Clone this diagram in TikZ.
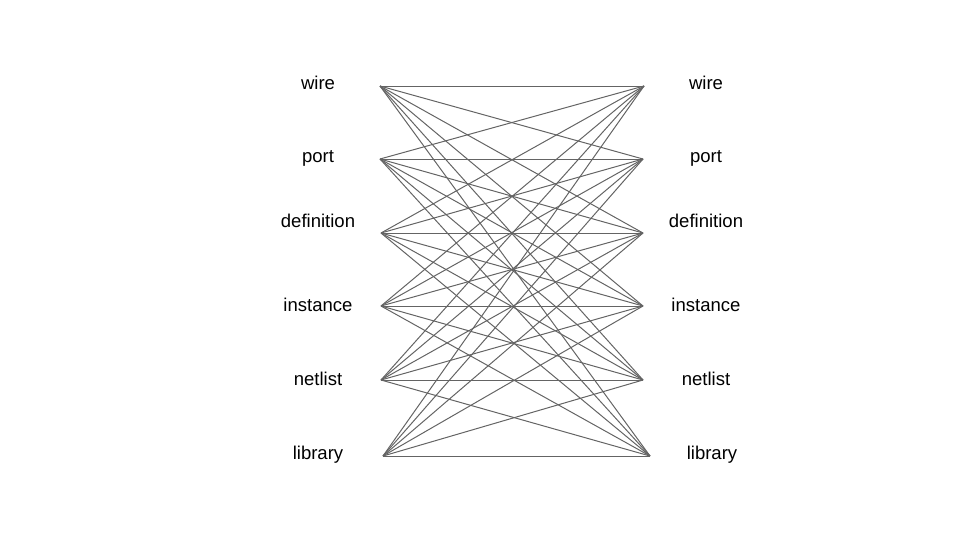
\documentclass[tikz,border=0pt]{standalone}
\usepackage{fontspec}
\setmainfont{Liberation Sans}
\begin{document}
\begin{tikzpicture}[x=0.75pt,y=-0.75pt,
  lbl/.style={font=\fontsize{13.9pt}{16pt}\selectfont, inner sep=0pt, anchor=center},
  edge/.style={draw={rgb,255:red,100;green,100;blue,100}, line width=0.75pt}]
\useasboundingbox (0,0) rectangle (960,540);
% endpoints
\coordinate (L1) at (380,86);
\coordinate (L2) at (380,159);
\coordinate (L3) at (381,233);
\coordinate (L4) at (381,306);
\coordinate (L5) at (381,380);
\coordinate (L6) at (383,456);
\coordinate (R1) at (644,86);
\coordinate (R2) at (643,159);
\coordinate (R3) at (643,233);
\coordinate (R4) at (643,306);
\coordinate (R5) at (643,380);
\coordinate (R6) at (650,456);
% labels
\node[lbl] (lw) at (318,83) {wire};
\node[lbl] (lp) at (318,158.5) {port};
\node[lbl] (ld) at (318,221) {definition};
\node[lbl] (li) at (318,305) {instance};
\node[lbl] (ln) at (318,379) {netlist};
\node[lbl] (ll) at (318,454.5) {library};
\node[lbl] (rw) at (706,83) {wire};
\node[lbl] (rp) at (706,158.5) {port};
\node[lbl] (rd) at (706,221) {definition};
\node[lbl] (ri) at (706,305) {instance};
\node[lbl] (rn) at (706,379) {netlist};
\node[lbl] (rl) at (712,454.5) {library};
% edges
\foreach \i in {1,...,6}{
  \foreach \j in {1,...,6}{
    \draw[edge] (L\i) -- (R\j);
  }
}
\end{tikzpicture}
\end{document}
